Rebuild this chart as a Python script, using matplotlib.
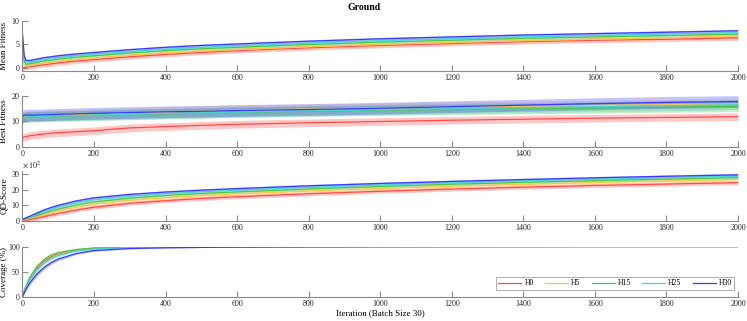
import numpy as np
import matplotlib
matplotlib.use("Agg")
import matplotlib.pyplot as plt

plt.rcParams["font.family"] = ["Liberation Serif", "DejaVu Serif"]
plt.rcParams["mathtext.fontset"] = "stix"

iters = [0, 5, 10, 20, 40, 60, 80, 100, 150, 200, 300, 400, 500, 600,
         800, 1000, 1200, 1400, 1600, 1800, 2000]

labels = ["H0", "H5", "H15", "H25", "H30"]
colors = ["#ff4a4a", "#ffc44a", "#4ac84a", "#4ad4d4", "#3a3aff"]

# Mean fitness
mean_h0 = [0.0, 0.1, 0.2, 0.3, 0.5, 0.7, 0.9, 1.1, 1.5, 1.8, 2.4, 2.9, 3.3, 3.7, 4.3, 4.8, 5.2, 5.6, 5.9, 6.1, 6.4]
mean_h5 = [3.0, 0.8, 0.4, 0.5, 0.8, 1.0, 1.2, 1.4, 1.8, 2.1, 2.7, 3.2, 3.6, 3.9, 4.5, 5.0, 5.4, 5.8, 6.1, 6.4, 6.8]
mean_h15 = [5.0, 1.4, 0.8, 0.9, 1.2, 1.5, 1.7, 1.9, 2.3, 2.6, 3.2, 3.7, 4.1, 4.4, 5.0, 5.5, 5.9, 6.3, 6.6, 6.9, 7.2]
mean_h25 = [6.5, 2.0, 1.1, 1.2, 1.5, 1.8, 2.0, 2.2, 2.6, 2.9, 3.5, 4.0, 4.4, 4.7, 5.3, 5.8, 6.2, 6.6, 6.9, 7.2, 7.5]
mean_h30 = [7.5, 2.6, 1.6, 1.6, 1.9, 2.2, 2.4, 2.6, 3.0, 3.3, 3.9, 4.4, 4.8, 5.1, 5.7, 6.2, 6.6, 7.0, 7.3, 7.6, 7.9]
mean_std = [0.5, 0.4, 0.35, 0.35, 0.3]

# Best fitness
best_h0 = [3.5, 3.9, 4.1, 4.4, 4.8, 5.1, 5.4, 5.6, 6.0, 6.4, 7.5, 8.0, 8.5, 8.9, 9.5, 10.0, 10.5, 10.9, 11.3, 11.6, 11.9]
best_h5 = [11.6, 11.8, 12.0, 12.1, 12.2, 12.3, 12.4, 12.5, 12.7, 12.9, 13.3, 13.7, 14.1, 14.4, 14.9, 15.3, 15.7, 16.0, 16.3, 16.6, 16.9]
best_h15 = [11.3, 11.5, 11.7, 11.8, 11.9, 12.0, 12.0, 12.1, 12.2, 12.4, 12.7, 13.0, 13.3, 13.6, 14.0, 14.4, 14.7, 15.0, 15.3, 15.6, 15.9]
best_h25 = [11.5, 11.6, 11.8, 11.8, 11.9, 12.0, 12.1, 12.2, 12.3, 12.5, 12.8, 13.1, 13.4, 13.7, 14.2, 14.6, 15.0, 15.4, 15.8, 16.2, 16.6]
best_h30 = [11.8, 12.5, 12.5, 12.5, 12.5, 12.6, 12.7, 12.8, 13.0, 13.2, 13.5, 13.8, 14.0, 14.3, 14.7, 15.2, 15.8, 16.4, 17.0, 17.5, 17.8]
best_std = [1.5, 2.0, 2.0, 2.0, 2.3]

# QD-score (x 10^2)
qd_h0 = [0.0, 0.2, 0.4, 0.8, 1.8, 2.8, 3.8, 4.8, 7.0, 8.8, 11.3, 13.0, 14.4, 15.5, 17.4, 19.0, 20.4, 21.6, 22.7, 23.6, 24.5]
qd_h5 = [0.3, 0.6, 0.9, 1.5, 2.8, 4.0, 5.2, 6.4, 8.8, 10.7, 13.2, 14.9, 16.2, 17.3, 19.2, 20.8, 22.2, 23.4, 24.6, 25.6, 26.5]
qd_h15 = [0.5, 0.9, 1.3, 2.0, 3.5, 5.0, 6.4, 7.6, 10.2, 12.2, 14.6, 16.3, 17.6, 18.6, 20.5, 22.1, 23.5, 24.7, 25.8, 26.8, 27.7]
qd_h25 = [0.8, 1.2, 1.6, 2.5, 4.3, 6.0, 7.5, 8.8, 11.5, 13.5, 15.8, 17.4, 18.7, 19.7, 21.5, 23.1, 24.5, 25.7, 26.8, 27.8, 28.7]
qd_h30 = [1.0, 1.5, 2.0, 3.0, 5.0, 7.0, 8.6, 10.0, 12.8, 14.8, 17.0, 18.5, 19.7, 20.7, 22.5, 24.0, 25.3, 26.5, 27.6, 28.6, 29.5]
qd_std = [1.3, 1.2, 1.0, 1.0, 0.9]

# Coverage (%)
cov_h0 = [0, 11, 21, 36, 57, 71, 80, 86, 93, 96.5, 98.8, 99.4, 99.7, 99.8, 99.9, 100, 100, 100, 100, 100, 100]
cov_h5 = [0, 12, 22, 38, 59, 73, 82, 87, 94, 97, 99, 99.5, 99.8, 99.9, 100, 100, 100, 100, 100, 100, 100]
cov_h15 = [0, 12, 22, 38, 60, 74, 83, 88, 94, 97, 99, 99.5, 99.8, 99.9, 100, 100, 100, 100, 100, 100, 100]
cov_h25 = [0, 10, 19, 33, 53, 67, 76, 82, 91, 95, 98, 99, 99.5, 99.7, 99.9, 100, 100, 100, 100, 100, 100]
cov_h30 = [0, 8, 15, 27, 45, 58, 68, 75, 86, 92, 96, 97.5, 98.3, 98.8, 99.3, 99.6, 99.8, 99.9, 100, 100, 100]
cov_std = [0, 2, 3, 4, 4.5, 4, 3.5, 3, 2, 1.5, 1, 0.6, 0.4, 0.3, 0.2, 0.1, 0, 0, 0, 0, 0]

panels = [
    ("Mean Fitness", [mean_h0, mean_h5, mean_h15, mean_h25, mean_h30], mean_std, (-0.6, 10), [0, 5, 10]),
    ("Best Fitness", [best_h0, best_h5, best_h15, best_h25, best_h30], best_std, (0, 20), [0, 10, 20]),
    ("QD-Score", [qd_h0, qd_h5, qd_h15, qd_h25, qd_h30], qd_std, (0, 32), [0, 10, 20, 30]),
    ("Coverage (%)", [cov_h0, cov_h5, cov_h15, cov_h25, cov_h30], None, (0, 100), [0, 50, 100]),
]

# axes boxes [left, bottom, width, height] in figure fractions
boxes = [
    [0.030, 0.779, 0.958, 0.156],
    [0.030, 0.542, 0.958, 0.159],
    [0.030, 0.3115, 0.958, 0.156],
    [0.030, 0.075, 0.958, 0.157],
]

fig = plt.figure(figsize=(7.47, 3.21), dpi=100)
x = np.array(iters)
for i, (name, series, std, ylim, yt) in enumerate(panels):
    ax = fig.add_axes(boxes[i])
    for j, (vals, c, lab) in enumerate(zip(series, colors, labels)):
        v = np.array(vals, dtype=float)
        if std is None:
            lo = v - np.array(cov_std)
            hi = np.minimum(v + np.array(cov_std), 100)
        else:
            lo, hi = v - std[j], v + std[j]
        ax.fill_between(x, lo, hi, color=c, alpha=0.3, linewidth=0)
        ax.plot(x, v, color=c, lw=0.9, label=lab)
    ax.set_xlim(0, 2000)
    ax.set_ylim(*ylim)
    ax.set_yticks(yt)
    ax.set_xticks(range(0, 2001, 200))
    ax.set_ylabel(name, fontsize=6.5)
    ax.yaxis.set_label_coords(-0.0205, 0.5)
    for sp in ["top", "right"]:
        ax.spines[sp].set_visible(False)
    for sp in ["left", "bottom"]:
        ax.spines[sp].set_color("#8a8a8a")
        ax.spines[sp].set_linewidth(0.8)
    ax.tick_params(direction="in", length=4, width=0.8, color="#8a8a8a",
                   labelsize=5.8, labelcolor="#262626", pad=2)
    if name == "QD-Score":
        ax.text(0.0, 1.02, r"$\times\,10^2$", transform=ax.transAxes,
                fontsize=6, color="#262626", ha="left", va="bottom")
    if i == 3:
        ax.set_xlabel("Iteration (Batch Size 30)", fontsize=6.5, labelpad=1)
        leg = ax.legend(loc="lower right", ncol=5, fontsize=5.5, frameon=True,
                        fancybox=False, edgecolor="#8a8a8a", handlelength=3,
                        columnspacing=1.5, borderpad=0.3, handletextpad=0.4,
                        bbox_to_anchor=(1.0, 0.07))
        leg.get_frame().set_linewidth(0.6)

fig.text(0.488, 0.99, "Ground", fontsize=7, fontweight="bold", ha="center", va="top")
fig.savefig("out.png", dpi=100)
